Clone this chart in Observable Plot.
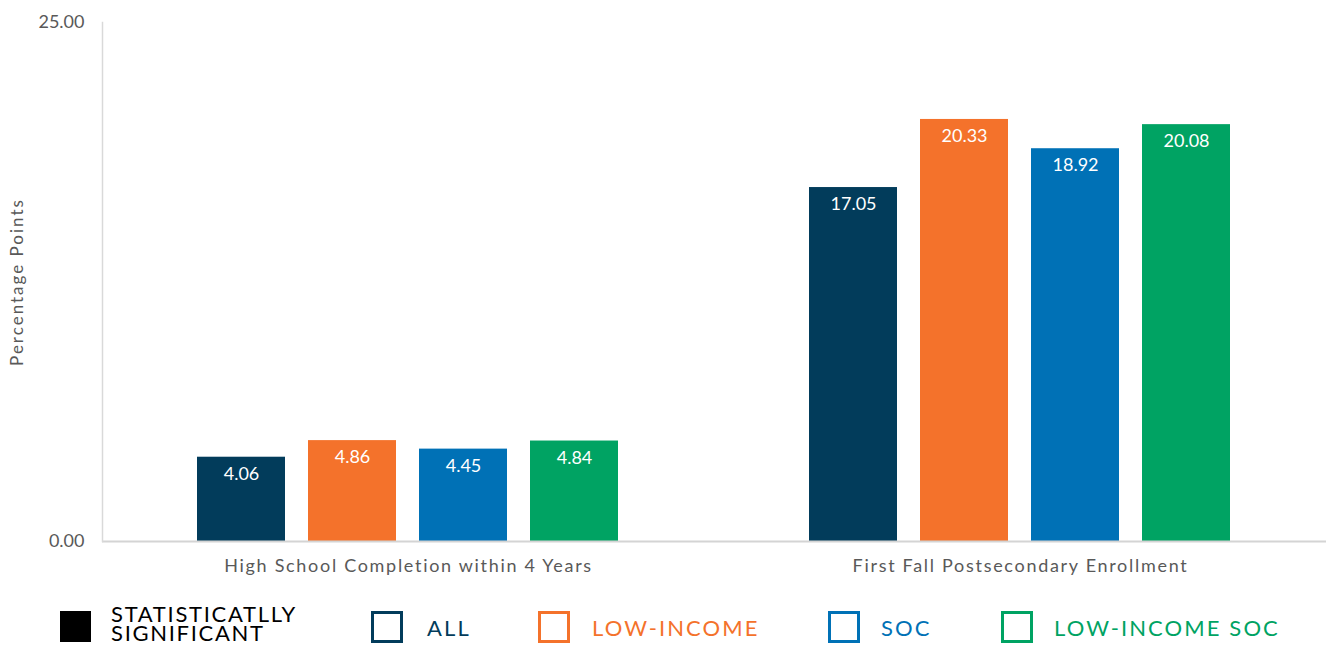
<!DOCTYPE html>
<html>
<head>
<meta charset="utf-8">
<script src="https://cdn.jsdelivr.net/npm/d3@7"></script>
<script src="https://cdn.jsdelivr.net/npm/@observablehq/plot@0.6"></script>
<style>
  html, body { margin: 0; padding: 0; background: #fff; }
  #wrap { width: 1326px; position: relative; font-family: Lato, "Open Sans", sans-serif; }
  #legend { position: relative; width: 1326px; height: 58px; }
  .sw { position: absolute; top: 21px; width: 26px; height: 26px; border: 3px solid; box-sizing: content-box; }
  .lab { position: absolute; top: 21px; height: 32px; display: flex; align-items: center; font-size: 22px; letter-spacing: 2.1px; white-space: nowrap; }
  .sig { position: absolute; left: 111px; top: 14px; width: 200px; line-height: 19px; font-size: 22px; letter-spacing: 1.7px; color: #000; }
  #chart [aria-label="fx-axis tick label"] text { letter-spacing: 1.7px; }
  #chart [aria-label="y-axis label"] text { letter-spacing: 2px; font-size: 17px; }
</style>
</head>
<body>
<div id="wrap">
  <div id="chart"></div>
  <div id="legend"></div>
</div>
<script>
const categories = ["High School Completion within 4 Years", "First Fall Postsecondary Enrollment"];
const groups = ["ALL", "LOW-INCOME", "SOC", "LOW-INCOME SOC"];
const groupColors = ["#023c5b", "#f4722b", "#0071b6", "#00a363"];
const highSchoolValues = [4.06, 4.86, 4.45, 4.84];
const postsecondaryValues = [17.05, 20.33, 18.92, 20.08];
const yTicks = [0, 25];
const significanceLabel = "STATISTICATLLY SIGNIFICANT";

const data = [];
groups.forEach((g, i) => {
  data.push({category: categories[0], group: g, value: highSchoolValues[i]});
  data.push({category: categories[1], group: g, value: postsecondaryValues[i]});
});

const chart = Plot.plot({
  width: 1326,
  height: 590,
  marginTop: 22,
  marginBottom: 49,
  marginLeft: 101,
  marginRight: 0,
  style: {fontFamily: "Lato, 'Open Sans', sans-serif", fontSize: "18px", color: "#595959", background: "#fff"},
  fx: {domain: categories, padding: 0, label: null, tickSize: 0, tickPadding: 18, axis: "bottom"},
  x: {domain: groups, paddingInner: 0.207, paddingOuter: 0.856, axis: null},
  y: {domain: [0, 25], ticks: yTicks, tickFormat: d => d.toFixed(2), tickSize: 0, tickPadding: 18,
      label: "Percentage Points", labelAnchor: "center", labelOffset: 92, labelArrow: "none"},
  color: {domain: groups, range: groupColors},
  marks: [
    Plot.barY(data, {fx: "category", x: "group", y: "value", fill: "group"}),
    Plot.text(data, {fx: "category", x: "group", y: "value", text: d => d.value.toFixed(2),
      dy: 17, fill: "white", fontSize: 18}),
    Plot.ruleY([0], {stroke: "#d4d4d4", strokeWidth: 2}),
    Plot.frame({anchor: "left", facet: "super", stroke: "#d9d9d9", strokeWidth: 1.5})
  ]
});
document.getElementById("chart").appendChild(chart);

// Legend
const legend = d3.select("#legend");
legend.append("div").attr("class", "sw")
  .style("left", "60px").style("width", "31px").style("height", "31px")
  .style("border", "none").style("background", "#000");
legend.append("div").attr("class", "sig").text(significanceLabel);
const swX = [371, 538, 828, 1001];
const labX = [427, 592, 881, 1054];
groups.forEach((g, i) => {
  legend.append("div").attr("class", "sw")
    .style("left", swX[i] + "px").style("border-color", groupColors[i]);
  legend.append("div").attr("class", "lab")
    .style("left", labX[i] + "px").style("color", groupColors[i]).text(g);
});
</script>
</body>
</html>
